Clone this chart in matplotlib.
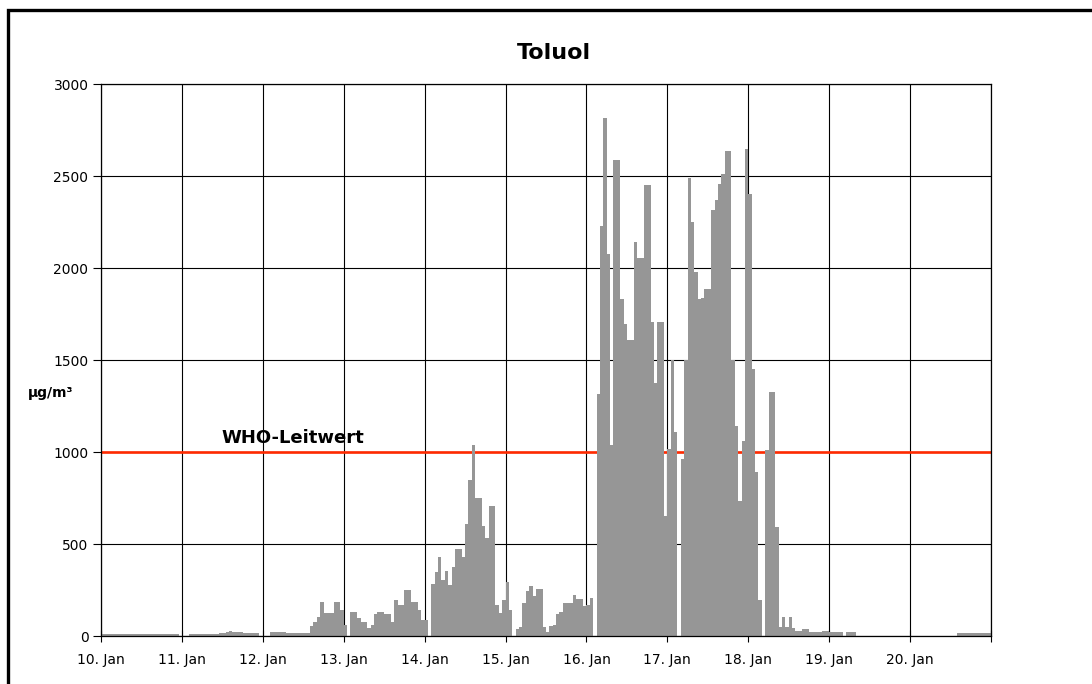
import numpy as np
import matplotlib
matplotlib.use('Agg')
import matplotlib.pyplot as plt
from matplotlib.patches import Rectangle

nan = np.nan

# hourly toluene concentrations (ug/m3), one list per day, gaps = nan
jan10 = [10, 10, 12, 12, 12, 12, 12, 12, 12, 12, 12, 12,
         12, 12, 12, 12, 12, 12, 12, 12, 12, 12, 12, nan]
jan11 = [nan, nan, 12, 12, 12, 12, 12, 12, 12, 12, 12, 14,
         18, 22, 25, 24, 20, 22, 16, 16, 16, 15, 15, nan]
jan12 = [nan, nan, 22, 24, 24, 22, 20, 18, 18, 18, 18, 18,
         18, 18, 56, 78, 105, 186, 123, 123, 123, 183, 183, 141]
jan13 = [60, nan, 128, 128, 96, 78, 78, 42, 60, 118, 132, 132,
         118, 118, 78, 195, 168, 168, 250, 250, 186, 183, 141, 87]
jan14 = [85, nan, 283, 346, 431, 304, 353, 277, 377, 473, 473, 431,
         609, 848, 1036, 750, 750, 598, 531, 707, 707, 168, 125, 196]
jan15 = [295, 142, nan, 40, 51, 178, 245, 272, 217, 254, 254, 51,
         24, 54, 60, 120, 132, 181, 181, 181, 222, 199, 199, 165]
jan16 = [166, 209, nan, 1317, 2227, 2817, 2076, 1038, 2585, 2585, 1832, 1695,
         1610, 1610, 2142, 2053, 2053, 2453, 2453, 1708, 1374, 1708, 1708, 650]
jan17 = [1015, 1500, 1108, nan, 960, 1500, 2490, 2251, 1980, 1830, 1839, 1884,
         1884, 2314, 2372, 2459, 2513, 2634, 2634, 1500, 1144, 732, 1058, 2649]
jan18 = [2400, 1450, 890, 195, nan, 1011, 1328, 1328, 590, 50, 105, 50,
         101, 42, 27, 27, 38, 38, 23, 23, 23, 23, 27, 27]
jan19 = [22, 22, 22, 22, nan, 24, 24, 24, nan, nan, nan, nan,
         nan, nan, nan, nan, nan, nan, nan, nan, nan, nan, nan, nan]
jan20 = [nan, nan, nan, nan, nan, nan, nan, nan, nan, nan, nan, nan,
         nan, nan, 15, 15, 15, 15, 15, 15, 15, 15, 15, 15]

day_labels = ['10. Jan', '11. Jan', '12. Jan', '13. Jan', '14. Jan', '15. Jan',
              '16. Jan', '17. Jan', '18. Jan', '19. Jan', '20. Jan', '']
who_limit = 1000

values = np.array(jan10 + jan11 + jan12 + jan13 + jan14 + jan15 + jan16
                  + jan17 + jan18 + jan19 + jan20, dtype=float)
hours = np.arange(len(values)) / 24.0

fig = plt.figure(figsize=(10.92, 6.84), dpi=100)
ax = fig.add_axes([101 / 1092, 1 - 636 / 684, 890 / 1092, 552 / 684])

# outer frame of the picture
fig.patches.append(Rectangle((8 / 1092, -0.1), 1.2, 1.1 - 10.5 / 684,
                             transform=fig.transFigure, fill=False,
                             edgecolor='black', linewidth=2.4))

ax.set_axisbelow(True)
ax.grid(True, color='black', linewidth=0.8)
ax.axhline(who_limit, color='#ff2a00', linewidth=1.9, zorder=1)

ok = ~np.isnan(values)
ax.bar(hours[ok], values[ok], width=1 / 24, align='edge',
       color='#969696', linewidth=0, zorder=2)

ax.set_xlim(0, 11)
ax.set_ylim(0, 3000)
ax.set_xticks(np.arange(12))
ax.set_xticklabels(day_labels)
ax.set_yticks(np.arange(0, 3001, 500))
ax.tick_params(axis='x', direction='inout', length=8, pad=8, labelsize=10)
ax.tick_params(axis='y', direction='out', length=6, pad=3, labelsize=10)
for s in ax.spines.values():
    s.set_linewidth(0.9)

fig.text(554 / 1092, 1 - 53 / 684, 'Toluol', fontsize=16, fontweight='bold',
         ha='center', va='center')
ax.text(1.49, 1025, 'WHO-Leitwert', fontsize=13, fontweight='bold',
        ha='left', va='bottom')
fig.text(51 / 1092, 1 - 393 / 684, 'µg/m³', fontsize=10, fontweight='bold',
         ha='center', va='center')

fig.savefig('out.png', dpi=100, facecolor='white')
